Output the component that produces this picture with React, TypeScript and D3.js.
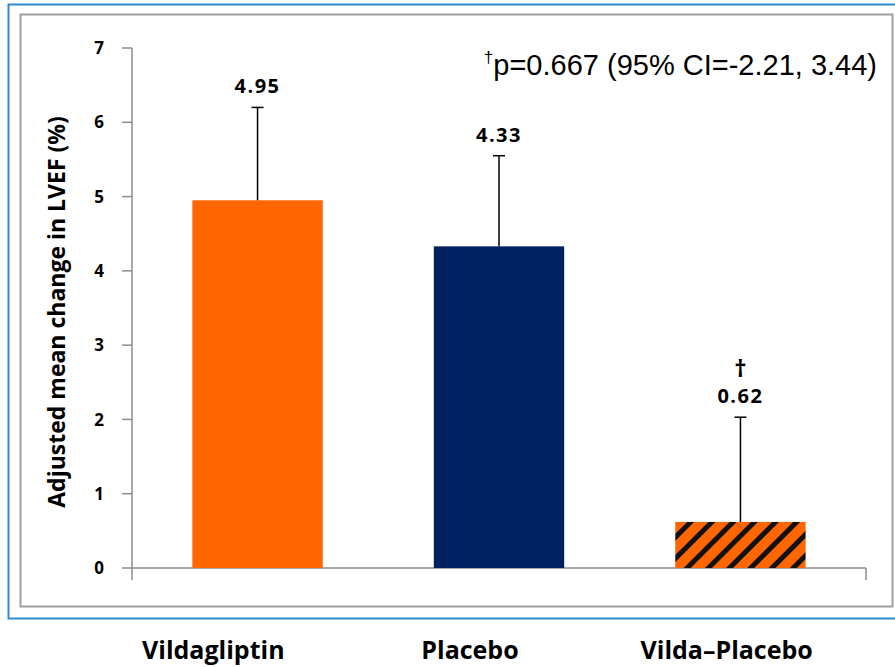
import React from "react";
import * as d3 from "d3";

const categories = ["Vildagliptin", "Placebo", "Vilda–Placebo"];
const means = [4.95, 4.33, 0.62];
const upperErr = [6.2, 5.55, 2.03];
const valueLabels = ["4.95", "4.33", "0.62"];
const yTicks = [0, 1, 2, 3, 4, 5, 6, 7];
const annotation = "p=0.667 (95% CI=-2.21, 3.44)";

export default function App() {
  const W = 895, H = 667;
  const x0 = 132, x1 = 866, yTop = 48, yBot = 568;
  const x = d3.scaleBand<string>().domain(categories).range([x0, x1]).paddingInner(0.46).paddingOuter(0.25);
  const y = d3.scaleLinear().domain([0, 7]).range([yBot, yTop]);
  const labelX = d3.scaleBand<string>().domain(categories).range([85, 855]);
  const fills = ["#FF6600", "#002060", "url(#hatch)"];
  const boldFont = "'Open Sans', sans-serif";
  return (
    <svg width={W} height={H} style={{ position: "absolute", left: 0, top: 0 }}>
      <defs>
        <pattern id="hatch" patternUnits="userSpaceOnUse" width={15} height={15} patternTransform="rotate(45)">
          <rect width={15} height={15} fill="#FF6600" />
          <rect x={0} y={0} width={5} height={15} fill="#111" />
        </pattern>
      </defs>
      <rect x={0} y={0} width={W} height={H} fill="#fff" />
      <rect x={8.5} y={4.5} width={900} height={614} fill="none" stroke="#2E8BC9" strokeWidth={2} />
      <rect x={20.5} y={14.5} width={872} height={592} fill="#fff" stroke="#A0A0A0" strokeWidth={2} />
      {/* y axis */}
      <line x1={x0} x2={x0} y1={yTop} y2={yBot + 12} stroke="#8C8C8C" strokeWidth={1.5} />
      {yTicks.map((t) => (
        <g key={t}>
          <line x1={x0 - 10} x2={x0} y1={y(t)} y2={y(t)} stroke="#8C8C8C" strokeWidth={1.5} />
          <text x={104} y={y(t)} dy="0.36em" textAnchor="end" fontFamily={boldFont} fontWeight="bold" fontSize={17}>{t}</text>
        </g>
      ))}
      {/* x axis */}
      <line x1={x0} x2={x1} y1={yBot} y2={yBot} stroke="#8C8C8C" strokeWidth={1.5} />
      <line x1={x1} x2={x1} y1={yBot} y2={yBot + 12} stroke="#8C8C8C" strokeWidth={1.5} />
      {categories.map((c, i) => {
        const bx = x(c)!;
        const bw = x.bandwidth();
        const cx = bx + bw / 2;
        return (
          <g key={c}>
            <rect x={bx} y={y(means[i])} width={bw} height={yBot - y(means[i])} fill={fills[i]} />
            <line x1={cx} x2={cx} y1={y(means[i])} y2={y(upperErr[i])} stroke="#000" strokeWidth={1.5} />
            <line x1={cx - 6} x2={cx + 6} y1={y(upperErr[i])} y2={y(upperErr[i])} stroke="#000" strokeWidth={1.5} />
            <text x={cx} y={y(upperErr[i]) - 14} textAnchor="middle" fontFamily={boldFont} fontWeight="bold" fontSize={20} letterSpacing={1.5}>{valueLabels[i]}</text>
            {i === 2 && (
              <text x={cx} y={y(upperErr[i]) - 40} textAnchor="middle" fontFamily={boldFont} fontWeight="bold" fontSize={24}>†</text>
            )}
            <text x={labelX(c)! + labelX.bandwidth() / 2} y={659} textAnchor="middle" fontFamily={boldFont} fontWeight="bold" fontSize={25}>{c}</text>
          </g>
        );
      })}
      <text x={877} y={75} textAnchor="end" fontFamily="'Liberation Sans', Arial, sans-serif" fontSize={29}>
        <tspan fontSize={17} dy={-12}>†</tspan>
        <tspan dy={12}>{annotation}</tspan>
      </text>
      <text transform={`translate(65,312) rotate(-90)`} textAnchor="middle" fontFamily={boldFont} fontWeight="bold" fontSize={23}>
        Adjusted mean change in LVEF (%)
      </text>
    </svg>
  );
}
